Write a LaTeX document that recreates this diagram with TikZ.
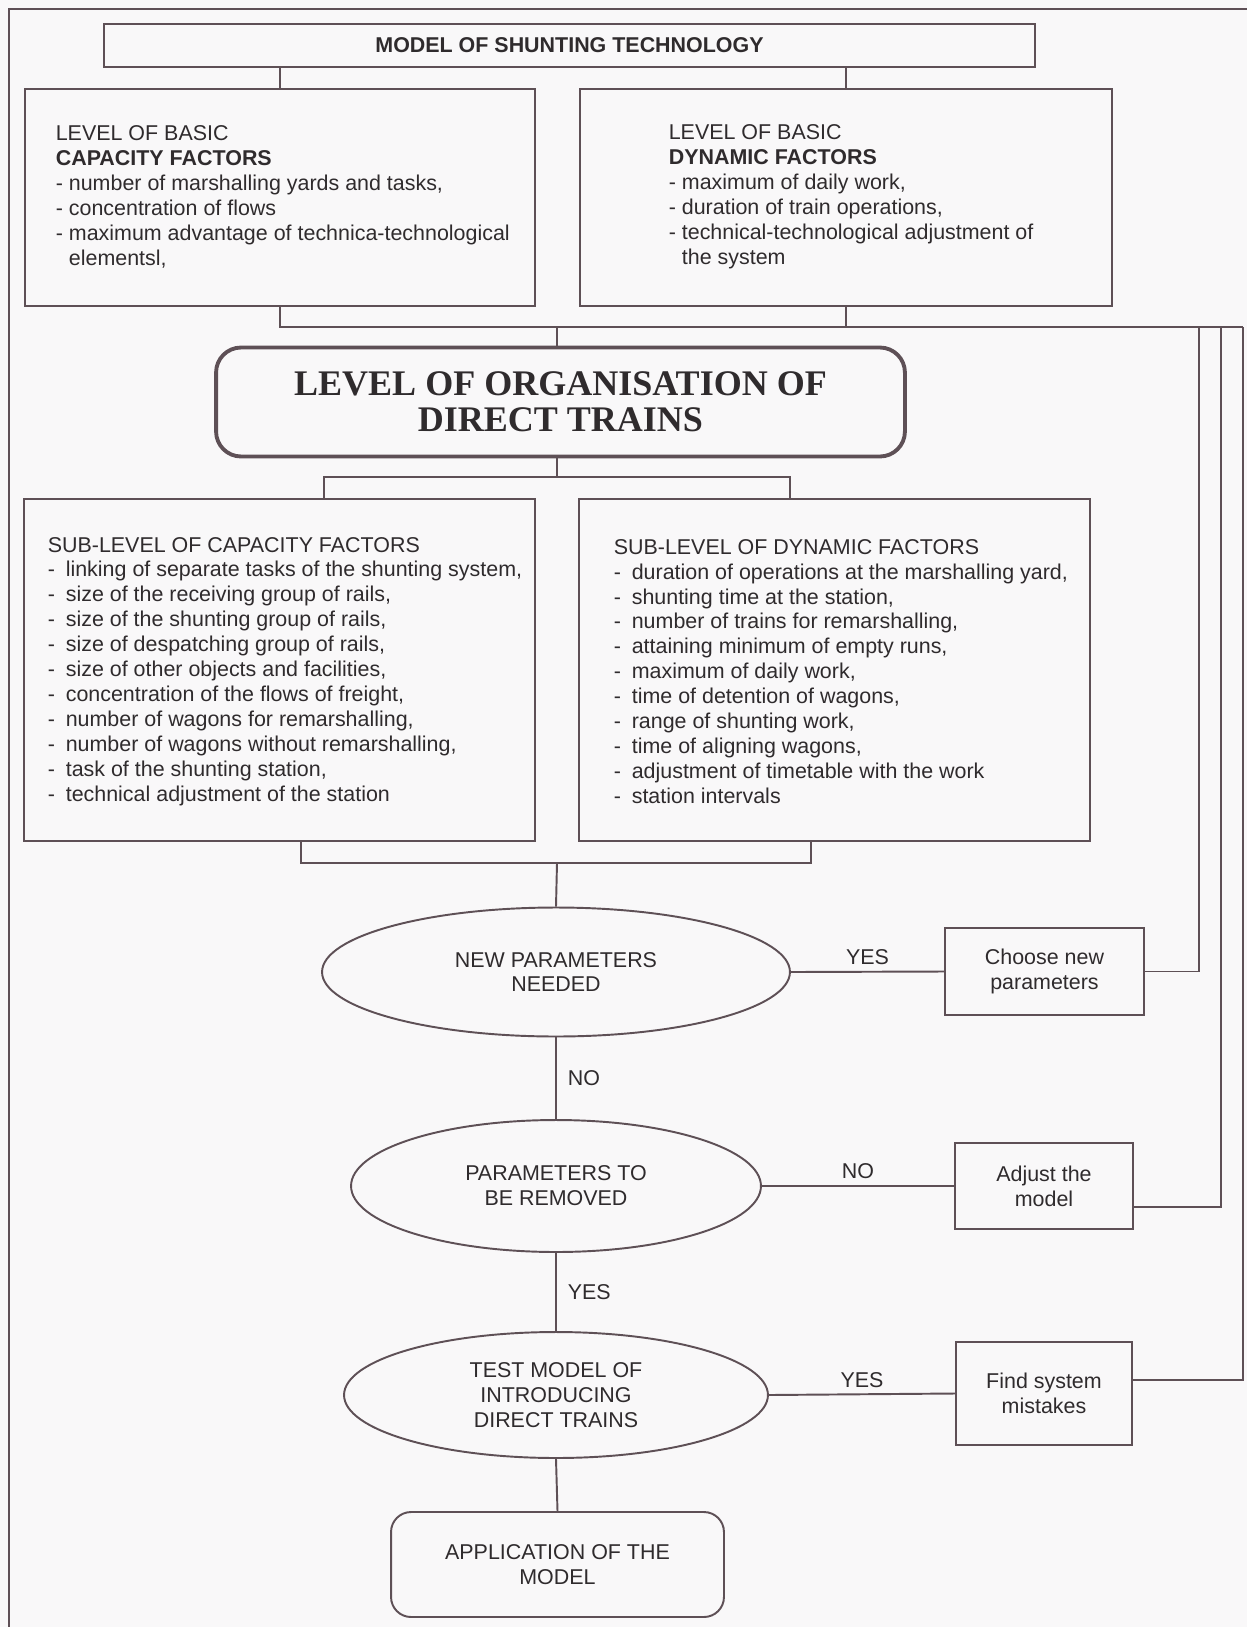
\documentclass[tikz,border=0pt]{standalone}
\usepackage{fontspec}
\setmainfont{Liberation Sans}
\newfontfamily\orgfont{Liberation Serif}
\usetikzlibrary{shapes.geometric}
\definecolor{linec}{HTML}{5E5056}
\definecolor{inkc}{HTML}{2F2B2D}
\definecolor{paperc}{HTML}{F9F8F9}
\newcommand{\itm}{\makebox[0.36cm][l]{-}}

\begin{document}
\begin{tikzpicture}[x=0.02cm,y=-0.02cm,line width=1.1pt,
  box/.style={draw=linec,rectangle,inner sep=0pt},
  oval/.style={draw=linec,ellipse,inner sep=0pt,align=center},
  txt/.style={text=inkc,font=\fontsize{12.2}{14.2}\selectfont},
  wire/.style={draw=linec}]
\fill[paperc] (0,0) rectangle (1247,1627);
\useasboundingbox (0,0) rectangle (1247,1627);
\draw[linec,line width=0.8pt] (9,1627) -- (9,9) -- (1247,9);

\node (model) at (569.5,45.5) [box,txt,minimum width=18.62cm,minimum height=0.86cm] {\bfseries MODEL OF SHUNTING TECHNOLOGY};
\node (lbox) at (280,197.5) [box,minimum width=10.2cm,minimum height=4.34cm] {};
\node (ltext) at (49,197) [txt,anchor=west,align=left] {LEVEL OF BASIC\\
  \textbf{CAPACITY FACTORS}\\
  - number of marshalling yards and tasks,\\
  - concentration of flows\\
  - maximum advantage of technica-technological\\
  \phantom{- }elementsl,};
\node (rbox) at (846,197.5) [box,minimum width=10.64cm,minimum height=4.34cm] {};
\node (rtext) at (662,197) [txt,anchor=west,align=left] {LEVEL OF BASIC\\
  \textbf{DYNAMIC FACTORS}\\
  - maximum of daily work,\\
  - duration of train operations,\\
  - technical-technological adjustment of\\
  \phantom{- }the system};

\node (org) at (560.5,402) [draw=linec,line width=2.2pt,rounded corners=0.5cm,minimum width=13.78cm,minimum height=2.18cm,align=center,text=inkc,font=\orgfont\bfseries\fontsize{20.5}{20.5}\selectfont] {LEVEL OF ORGANISATION OF\\DIRECT TRAINS};

\node (slbox) at (279.5,670) [box,minimum width=10.22cm,minimum height=6.84cm] {};
\node (sltext) at (41,671.5) [txt,anchor=west,align=left] {SUB-LEVEL OF CAPACITY FACTORS\\
  \itm linking of separate tasks of the shunting system,\\
  \itm size of the receiving group of rails,\\
  \itm size of the shunting group of rails,\\
  \itm size of despatching group of rails,\\
  \itm size of other objects and facilities,\\
  \itm concentration of the flows of freight,\\
  \itm number of wagons for remarshalling,\\
  \itm number of wagons without remarshalling,\\
  \itm task of the shunting station,\\
  \itm technical adjustment of the station};
\node (srbox) at (834.5,670) [box,minimum width=10.22cm,minimum height=6.84cm] {};
\node (srtext) at (607,671.5) [txt,anchor=west,align=left] {SUB-LEVEL OF DYNAMIC FACTORS\\
  \itm duration of operations at the marshalling yard,\\
  \itm shunting time at the station,\\
  \itm number of trains for remarshalling,\\
  \itm attaining minimum of empty runs,\\
  \itm maximum of daily work,\\
  \itm time of detention of wagons,\\
  \itm range of shunting work,\\
  \itm time of aligning wagons,\\
  \itm adjustment of timetable with the work\\
  \itm station intervals};

\node (ell1) at (556,972) [oval,txt,minimum width=9.36cm,minimum height=2.58cm] {NEW PARAMETERS\\NEEDED};
\node (choose) at (1044.5,971.5) [box,txt,align=center,minimum width=3.98cm,minimum height=1.74cm] {Choose new\\parameters};
\node (ell2) at (556,1186) [oval,txt,minimum width=8.2cm,minimum height=2.64cm] {PARAMETERS TO\\BE REMOVED};
\node (adjust) at (1044,1186) [box,txt,align=center,minimum width=3.56cm,minimum height=1.72cm] {Adjust the\\model};
\node (ell3) at (556,1395) [oval,txt,minimum width=8.48cm,minimum height=2.52cm] {TEST MODEL OF\\INTRODUCING\\DIRECT TRAINS};
\node (find) at (1044,1393.5) [box,txt,align=center,minimum width=3.52cm,minimum height=2.06cm] {Find system\\mistakes};
\node (app) at (557.5,1564.5) [box,txt,rounded corners=0.4cm,align=center,minimum width=6.66cm,minimum height=2.1cm] {APPLICATION OF THE\\MODEL};

\coordinate (hub1) at (557,327);
\coordinate (fb1) at (1199,327);
\coordinate (fb2) at (1221,327);
\coordinate (fb3) at (1243,327);
\coordinate (hub2) at (557,477);
\coordinate (sl) at (324,477);
\coordinate (sr) at (790,477);
\coordinate (hub3) at (557,863);
\coordinate (bl) at (301,863);
\coordinate (br) at (811,863);

\draw[wire] (model.south -| lbox.north) -- (lbox.north);
\draw[wire] (model.south -| rbox.north) -- (rbox.north);
\draw[wire] (lbox.south) -- (lbox.south |- fb3) -- (fb3);
\draw[wire] (rbox.south) -- (rbox.south |- fb3);
\draw[wire] (hub1) -- (org.north -| hub1);
\draw[wire] (org.south -| hub2) -- (hub2);
\draw[wire] (slbox.north -| sl) -- (sl) -- (sr) -- (srbox.north -| sr);
\draw[wire] (slbox.south -| bl) -- (bl) -- (br) -- (srbox.south -| br);
\draw[wire] (hub3) -- (ell1.north);
\draw[wire] (ell1.east) -- node[txt,above] {YES} (choose.west);
\draw[wire] (ell1.south) -- node[txt,right,xshift=0.1cm] {NO} (ell2.north);
\draw[wire] (ell2.east) -- node[txt,above] {NO} (adjust.west);
\draw[wire] (ell2.south) -- node[txt,right,xshift=0.1cm] {YES} (ell3.north);
\draw[wire] (ell3.east) -- node[txt,above] {YES} (find.west);
\draw[wire] (ell3.south) -- (app.north);
\draw[wire] (choose.east) -| (fb1);
\draw[wire] ([yshift=-0.42cm]adjust.east) -| (fb2);
\draw[wire] ([yshift=0.27cm]find.east) -| (fb3);
\end{tikzpicture}
\end{document}
